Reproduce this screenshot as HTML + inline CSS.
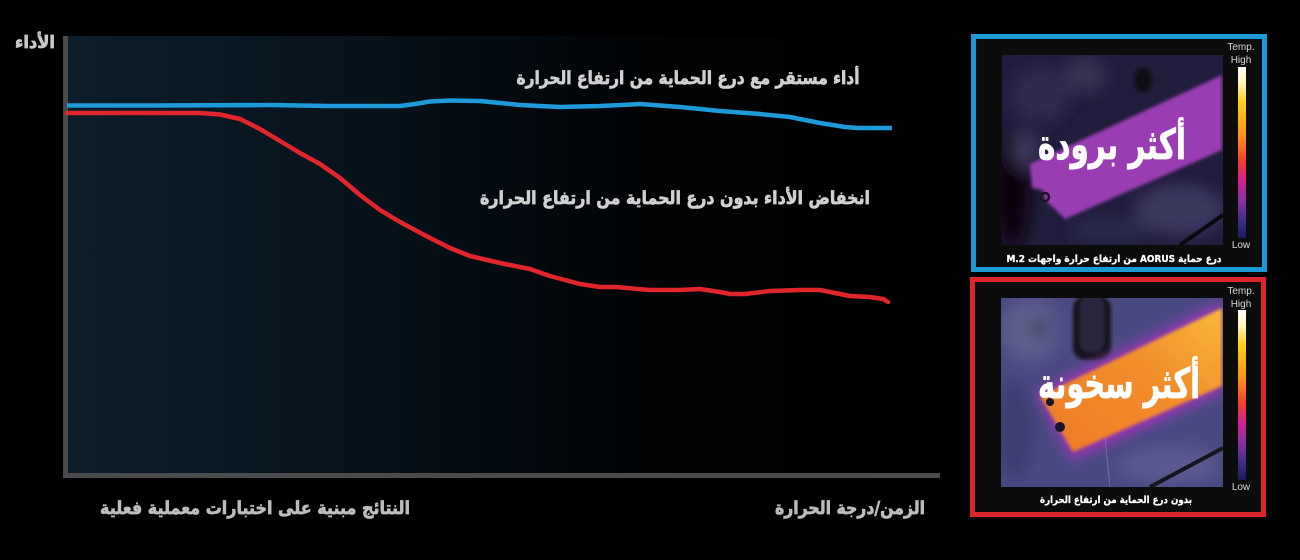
<!DOCTYPE html>
<html>
<head>
<meta charset="utf-8">
<style>
html,body{margin:0;padding:0;background:#000;}
svg{display:block;}
.ar{font-family:"DejaVu Sans","Liberation Sans",sans-serif;font-weight:bold;}
.lat{font-family:"Liberation Sans",sans-serif;}
</style>
</head>
<body>
<svg width="1300" height="560" viewBox="0 0 1300 560" xmlns="http://www.w3.org/2000/svg">
  <defs>
    <linearGradient id="plotbg" x1="0" y1="0" x2="1" y2="0">
      <stop offset="0" stop-color="#0b1d2b"/>
      <stop offset="0.35" stop-color="#07121b"/>
      <stop offset="0.65" stop-color="#010305"/>
      <stop offset="1" stop-color="#000"/>
    </linearGradient>
    <linearGradient id="cbar" x1="0" y1="0" x2="0" y2="1">
      <stop offset="0" stop-color="#ffffff"/>
      <stop offset="0.1" stop-color="#fff4b0"/>
      <stop offset="0.2" stop-color="#ffd21a"/>
      <stop offset="0.4" stop-color="#ff9218"/>
      <stop offset="0.55" stop-color="#f0402c"/>
      <stop offset="0.66" stop-color="#d4208c"/>
      <stop offset="0.78" stop-color="#8a30a4"/>
      <stop offset="0.9" stop-color="#3c2c8c"/>
      <stop offset="1" stop-color="#1a1a5c"/>
    </linearGradient>
    <linearGradient id="hotband" x1="0" y1="1" x2="1" y2="0">
      <stop offset="0" stop-color="#ee7a2a"/>
      <stop offset="0.6" stop-color="#f28f2c"/>
      <stop offset="1" stop-color="#f8b83a"/>
    </linearGradient>
    <filter id="blur2" x="-20%" y="-20%" width="140%" height="140%"><feGaussianBlur stdDeviation="1.5"/></filter>
    <filter id="blur6" x="-20%" y="-20%" width="140%" height="140%"><feGaussianBlur stdDeviation="6"/></filter>
    <filter id="blur8" x="-50%" y="-50%" width="200%" height="200%"><feGaussianBlur stdDeviation="8"/></filter>
    <clipPath id="clipCool"><rect x="1002" y="55" width="221" height="190"/></clipPath>
    <clipPath id="clipHot"><rect x="1001" y="298" width="222" height="189"/></clipPath>
  </defs>

  <!-- Plot area -->
  <rect x="67" y="36" width="873" height="438" fill="url(#plotbg)"/>
  <rect x="63" y="36" width="5" height="442" fill="#4a4a4a"/>
  <rect x="63" y="473" width="877" height="5" fill="#4a4a4a"/>

  <!-- Series -->
  <polyline fill="none" stroke="#1e9ad8" stroke-width="4.5" stroke-linejoin="round" stroke-linecap="butt"
    points="67,105.5 150,105.5 270,105 330,106 400,106 415,104 430,101.5 450,100.5 480,101 520,105 560,107 600,106 640,104 680,107 720,111 760,114 790,117 820,123 845,127 858,128 892,128"/>
  <polyline fill="none" stroke="#e1262b" stroke-width="4.5" stroke-linejoin="round" stroke-linecap="round"
    points="67,113 150,113 200,113 220,114.5 240,119 260,129 280,141 300,153 320,164 340,178 360,195 380,210 400,222 430,238 450,248 470,256 500,263 530,269 550,276 580,284 600,287 615,287 650,290 680,290 700,289 720,292 730,294 745,294 770,291 800,290 820,290 835,293 850,296 870,297 883,299 888,302"/>

  <!-- Labels -->
  <g class="ar" stroke-width="0.7">
  <text x="35" y="48" font-size="17" fill="#c8c8c8" stroke="#c8c8c8" text-anchor="middle" direction="rtl" textLength="40" lengthAdjust="spacingAndGlyphs">الأداء</text>
  <text x="688" y="84" font-size="18" fill="#d0d0d0" stroke="#d0d0d0" text-anchor="middle" direction="rtl" textLength="343" lengthAdjust="spacingAndGlyphs">أداء مستقر مع درع الحماية من ارتفاع الحرارة</text>
  <text x="675" y="204" font-size="18" fill="#d0d0d0" stroke="#d0d0d0" text-anchor="middle" direction="rtl" textLength="390" lengthAdjust="spacingAndGlyphs">انخفاض الأداء بدون درع الحماية من ارتفاع الحرارة</text>
  <text x="255" y="514" font-size="18" fill="#bdbdbd" stroke="#bdbdbd" text-anchor="middle" direction="rtl" textLength="310" lengthAdjust="spacingAndGlyphs">النتائج مبنية على اختبارات معملية فعلية</text>
  <text x="850" y="514" font-size="18" fill="#bdbdbd" stroke="#bdbdbd" text-anchor="middle" direction="rtl" textLength="150" lengthAdjust="spacingAndGlyphs">الزمن/درجة الحرارة</text>
  </g>

  <!-- Cool panel -->
  <rect x="971" y="34" width="296" height="238" fill="#1b9ad6"/>
  <rect x="976" y="39" width="286" height="228" fill="#0c0c0c"/>
  <g clip-path="url(#clipCool)">
    <rect x="1002" y="55" width="221" height="190" fill="#211d3c"/>
    <g filter="url(#blur8)">
      <ellipse cx="1012" cy="190" rx="18" ry="60" fill="#07060c"/>
      <ellipse cx="1040" cy="95" rx="30" ry="28" fill="#2e2b4c"/>
      <ellipse cx="1085" cy="75" rx="22" ry="18" fill="#36334f"/>
      <ellipse cx="1180" cy="210" rx="45" ry="25" fill="#3a3860"/>
      <ellipse cx="1110" cy="230" rx="40" ry="12" fill="#2c2a50"/>
      <ellipse cx="1025" cy="150" rx="14" ry="20" fill="#3a3658"/>
    </g>
    <ellipse cx="1143" cy="80" rx="9" ry="12" fill="#0e0c18" filter="url(#blur2)"/>
    <polygon points="1030,164 1222,75 1222,150 1065,219 1057,211 1045,200 1043,190 1032,188" fill="#9a3cb2" filter="url(#blur2)"/>
    <circle cx="1045" cy="197" r="4" fill="none" stroke="#1a1428" stroke-width="2.5"/>
    <line x1="1180" y1="245" x2="1223" y2="215" stroke="#0a0912" stroke-width="4"/>
  </g>
  <text class="ar" x="1112" y="159" font-size="42" fill="#ffffff" stroke="#ffffff" stroke-width="0.8" text-anchor="middle" direction="rtl" textLength="148" lengthAdjust="spacingAndGlyphs">أكثر برودة</text>
  <rect x="1238" y="67" width="8" height="171" fill="url(#cbar)"/>
  <text class="lat" x="1241" y="50" font-size="10" fill="#d8d8d8" text-anchor="middle">Temp.</text>
  <text class="lat" x="1241" y="63" font-size="10" fill="#d8d8d8" text-anchor="middle">High</text>
  <text class="lat" x="1241" y="248" font-size="10" fill="#d8d8d8" text-anchor="middle">Low</text>
  <text class="ar" x="1114" y="262" font-size="10" fill="#ffffff" stroke="#ffffff" stroke-width="0.3" text-anchor="middle" direction="rtl" textLength="215" lengthAdjust="spacingAndGlyphs">درع حماية AORUS  من ارتفاع حرارة واجهات M.2</text>

  <!-- Hot panel -->
  <rect x="970" y="277" width="296" height="240" fill="#d9252b"/>
  <rect x="975" y="282" width="286" height="230" fill="#0c0c0c"/>
  <g clip-path="url(#clipHot)">
    <rect x="1001" y="298" width="222" height="189" fill="#4a4a82"/>
    <g filter="url(#blur8)">
      <ellipse cx="1030" cy="330" rx="28" ry="30" fill="#5e5e8c"/>
      <ellipse cx="1040" cy="328" rx="8" ry="8" fill="#33304c"/>
      <ellipse cx="1170" cy="465" rx="50" ry="18" fill="#5a5a90"/>
      <ellipse cx="1015" cy="430" rx="18" ry="50" fill="#3e3e70"/>
    </g>
    <g filter="url(#blur2)">
      <rect x="1073" y="296" width="38" height="64" rx="12" fill="#17141f"/>
      <rect x="1080" y="296" width="24" height="56" rx="10" fill="#2c2840"/>
    </g>
    <polygon points="1036,392 1222,302 1222,392 1072,460" fill="#9c34b8" filter="url(#blur6)"/>
    <polygon points="1040,396 1222,308 1222,386 1073,452" fill="url(#hotband)" filter="url(#blur2)"/>
    <circle cx="1050" cy="402" r="4" fill="#1a1526"/>
    <circle cx="1060" cy="427" r="5" fill="#1a1526"/>
    <line x1="1105" y1="438" x2="1110" y2="487" stroke="#8a7ab0" stroke-width="1" opacity="0.7"/>
    <line x1="1150" y1="487" x2="1223" y2="448" stroke="#16141f" stroke-width="4"/>
  </g>
  <text class="ar" x="1119" y="398" font-size="42" fill="#ffffff" stroke="#ffffff" stroke-width="0.8" text-anchor="middle" direction="rtl" textLength="162" lengthAdjust="spacingAndGlyphs">أكثر سخونة</text>
  <rect x="1238" y="310" width="8" height="170" fill="url(#cbar)"/>
  <text class="lat" x="1241" y="294" font-size="10" fill="#d8d8d8" text-anchor="middle">Temp.</text>
  <text class="lat" x="1241" y="307" font-size="10" fill="#d8d8d8" text-anchor="middle">High</text>
  <text class="lat" x="1241" y="490" font-size="10" fill="#d8d8d8" text-anchor="middle">Low</text>
  <text class="ar" x="1116" y="503" font-size="10" fill="#ffffff" stroke="#ffffff" stroke-width="0.3" text-anchor="middle" direction="rtl" textLength="152" lengthAdjust="spacingAndGlyphs">بدون درع الحماية من ارتفاع الحرارة</text>
</svg>
</body>
</html>
